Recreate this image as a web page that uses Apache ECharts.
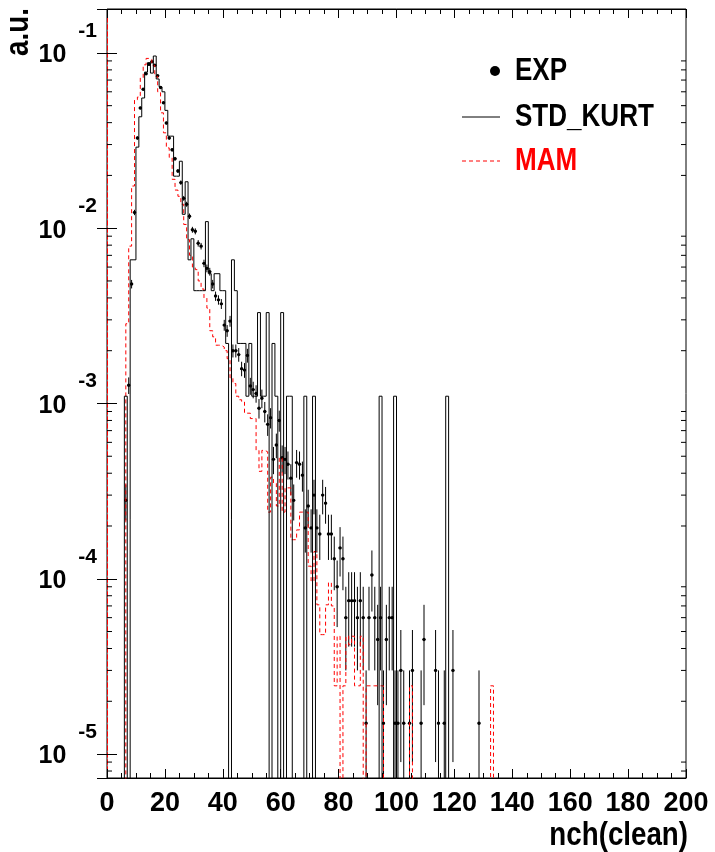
<!DOCTYPE html>
<html>
<head>
<meta charset="utf-8">
<script src="https://cdn.jsdelivr.net/npm/echarts/dist/echarts.min.js"></script>
<style>
  html, body { margin: 0; padding: 0; background: #fff; }
  #main { width: 715px; height: 852px; }
</style>
</head>
<body>
<div id="main"></div>
<script>
// bins of width 1 in nch, first bin = 5
const binStart = 5;

// STD_KURT histogram (black)
const kurtVals = [
  0, 0.0011, 0, 0.0066, 0.0066, 0.029, 0.0432, 0.0553, 0.0777, 0.088,
  0.0767, 0.096, 0.071, 0.064, 0.060, 0.047, 0.0335, 0.0335, 0.0198, 0.0198,
  0.0241, 0.012, 0.0184, 0.0066, 0.0087, 0.0044, 0.0044, 0.0044, 0.0044, 0.0109,
  0.0055, 0.0044, 0.0055, 0.0055, 0.0044, 0.0044, 0.0022, 0, 0.0066, 0.0044,
  0.0022, 0.0022, 0.0022, 0.0011, 0.0022, 0.0011, 0.0011, 0.0033, 0.0011, 0.0011,
  0.0033, 0, 0.0022, 0.0011, 0, 0.0033, 0, 0.0011, 0.0011, 0,
  0, 0, 0, 0.0011, 0, 0, 0.0011, 0, 0, 0,
  0, 0, 0, 0, 0, 0, 0, 0, 0, 0,
  0, 0, 0, 0, 0, 0, 0, 0, 0, 0.0011,
  0, 0, 0, 0, 0.0011, 0, 0, 0, 0, 0,
  0, 0, 0, 0, 0, 0, 0, 0, 0, 0,
  0, 0, 0.0011, 0, 0, 0, 0, 0, 0, 0,
  0, 0, 0, 0, 0, 0, 0, 0, 0, 0,
  0
];

// MAM histogram (red dashed), bins centred on integer nch
const mamVals = [
  0, 0, 0.00285, 0.0079, 0.0174, 0.054, 0.056, 0.072, 0.0855, 0.093,
  0.092, 0.085, 0.0735, 0.060, 0.0455, 0.035, 0.0287, 0.0253, 0.019, 0.0165,
  0.0152, 0.0137, 0.0105, 0.0086, 0.0070, 0.0060, 0.0058, 0.0050, 0.0045, 0.0040,
  0.0035, 0.0026, 0.0024, 0.00215, 0.00215, 0.0021, 0.0020, 0.0018, 0.0014, 0.0013,
  0.0011, 0.00105, 0.00102, 0.00088, 0.00088, 0.00082, 0.00082, 0.00054, 0.00041, 0.00054,
  0.00053, 0.00024, 0.00038, 0.00035, 0.00026, 0.00049, 0.00024, 0.00033, 0.00033, 0.000167,
  0.000167, 0.00019, 0.00024, 0.00024, 0.00024, 0.000118, 0.000097, 0.000143, 0.000071, 0.000048,
  0.000048, 0.000071, 0.000095, 0.00007, 0.0000245, 0.000047, 0, 0.0000245, 0.000047, 0.000042,
  0.000047, 0.0000245, 0.0000245, 0.000047, 0, 0.0000245, 0.0000245, 0.0000245, 0.0000245, 0.0000245,
  0.0000245, 0, 0, 0, 0, 0, 0, 0, 0, 0,
  0.0000245, 0, 0, 0, 0, 0, 0, 0, 0, 0,
  0, 0, 0, 0, 0, 0, 0, 0, 0, 0,
  0, 0, 0, 0, 0, 0, 0, 0, 0.0000245, 0,
  0
];

// EXP points and their errors
const expVals = [
  0, 0.00028, 0.00127, 0.0048, 0.0123, 0.0327, 0.0485, 0.062, 0.076, 0.086,
  0.089, 0.085, 0.074, 0.0635, 0.052, 0.0398, 0.0327, 0.028, 0.0249, 0.0212,
  0.0182, 0.0148, 0.0137, 0.0117, 0.0098, 0.0096, 0.0082, 0.0079, 0.0063, 0.0059,
  0.00565, 0.0048, 0.0041, 0.0039, 0.0037, 0.0028, 0.0026, 0.00295, 0.0020, 0.0020,
  0.0019, 0.00158, 0.00155, 0.00188, 0.00126, 0.0012, 0.00114, 0.00094, 0.00107, 0.0009,
  0.00076, 0.00083, 0.00048, 0.00058, 0.0008, 0.00049, 0.00048, 0.00045, 0.000375, 0.00028,
  0.00046, 0.00045, 0.00039, 0.000195, 0.00026, 0.000195, 0.0003, 0.000195, 0.00018, 0.0003,
  0.00027, 0.00018, 0.00018, 0.00013, 0.00009, 0.00015, 0.00013, 0.00006, 0.000075, 0.000075,
  0.000075, 0.00006, 0.000075, 0.00006, 0.000015, 0.00006, 0.000105, 0.00006, 0.000045, 0.00006,
  0.000015, 0.000045, 0.00006, 0.00006, 0.000015, 0.000015, 0.00003, 0.000015, 0, 0.000015,
  0.00003, 0, 0, 0.000015, 0.000045, 0, 0, 0, 0.00003, 0.000015,
  0, 0.000015, 0, 0, 0.00003, 0, 0, 0, 0, 0,
  0, 0, 0, 0.000015, 0, 0, 0, 0, 0, 0,
  0
];
const expErrs = [
  0, 6.5e-5, 1.38e-4, 2.68e-4, 4.3e-4, 7.0e-4, 8.5e-4, 9.6e-4, 1.07e-3, 1.14e-3,
  1.16e-3, 1.13e-3, 1.05e-3, 9.8e-4, 8.8e-4, 7.7e-4, 7.0e-4, 6.5e-4, 6.1e-4, 5.6e-4,
  5.2e-4, 4.7e-4, 4.5e-4, 4.2e-4, 3.8e-4, 3.8e-4, 3.5e-4, 3.4e-4, 3.1e-4, 3.0e-4,
  2.9e-4, 2.7e-4, 2.5e-4, 2.4e-4, 2.4e-4, 2.0e-4, 2.0e-4, 2.1e-4, 1.7e-4, 1.7e-4,
  1.7e-4, 1.5e-4, 1.5e-4, 1.7e-4, 1.4e-4, 1.3e-4, 1.3e-4, 1.2e-4, 1.3e-4, 1.2e-4,
  1.07e-4, 1.1e-4, 8.5e-5, 9.3e-5, 1.1e-4, 8.6e-5, 8.5e-5, 8.2e-5, 7.5e-5, 6.5e-5,
  8.3e-5, 8.2e-5, 7.6e-5, 5.4e-5, 6.2e-5, 5.4e-5, 6.7e-5, 5.4e-5, 5.2e-5, 6.7e-5,
  6.4e-5, 5.2e-5, 5.2e-5, 4.4e-5, 3.7e-5, 4.7e-5, 4.4e-5, 3.0e-5, 3.4e-5, 3.4e-5,
  3.4e-5, 3.0e-5, 3.4e-5, 3.0e-5, 1.5e-5, 3.0e-5, 4.0e-5, 3.0e-5, 2.6e-5, 3.0e-5,
  1.5e-5, 2.6e-5, 3.0e-5, 3.0e-5, 1.5e-5, 1.5e-5, 2.1e-5, 1.5e-5, 0, 1.5e-5,
  2.1e-5, 0, 0, 1.5e-5, 2.6e-5, 0, 0, 0, 2.1e-5, 1.5e-5,
  0, 1.5e-5, 0, 0, 2.1e-5, 0, 0, 0, 0, 0,
  0, 0, 0, 1.5e-5, 0, 0, 0, 0, 0, 0,
  0
];

// axis ranges
const xMin = 0, xMax = 200;
const yMin = 7.3e-6, yMax = 0.178;
const floorVal = 1e-7; // empty bins: drawn down below the frame and clipped

// minor ticks of the log axis (2..9 x 10^k)
const minorTicks = [];
for (let k = -6; k <= 0; k++) {
  for (let m = 2; m <= 9; m++) {
    const t = m * Math.pow(10, k);
    if (t > yMin && t < yMax) minorTicks.push([0, t]);
  }
}

// step line data
const kurtLine = kurtVals.map((v, i) => [binStart + i, v > 0 ? v : floorVal]);
kurtLine.push([binStart + kurtVals.length, floorVal]);
const mamLine = mamVals.map((v, i) => [binStart + i - 0.5, v > 0 ? v : floorVal]);
mamLine.push([binStart + mamVals.length - 0.5, floorVal]);
const expData = expVals.map((v, i) => [binStart + i, v, expErrs[i]]).filter(d => d[1] > 0);

const regular = "'Liberation Sans', Arial, sans-serif";

const chart = echarts.init(document.getElementById('main'), null, { renderer: 'canvas' });

function renderExp(params, api) {
  const lo = api.value(0), v = api.value(1), e = api.value(2);
  const a = api.coord([lo, v]);
  const b = api.coord([lo + 1, v]);
  const top = api.coord([lo + 0.5, v + e]);
  const bot = api.coord([lo + 0.5, Math.max(v - e, yMin)]);
  const st = { stroke: '#000', lineWidth: 1 };
  return {
    type: 'group',
    children: [
      { type: 'line', shape: { x1: a[0], y1: a[1], x2: b[0], y2: b[1] }, style: st },
      { type: 'line', shape: { x1: top[0], y1: top[1], x2: bot[0], y2: bot[1] }, style: st },
      { type: 'circle', shape: { cx: (a[0] + b[0]) / 2, cy: a[1], r: 1.7 }, style: { fill: '#000' } }
    ]
  };
}

function renderMinor(params, api) {
  const v = api.value(1);
  const l = api.coord([xMin, v]);
  const r = api.coord([xMax, v]);
  const st = { stroke: '#000', lineWidth: 1 };
  return {
    type: 'group',
    children: [
      { type: 'line', shape: { x1: l[0], y1: l[1], x2: l[0] + 5, y2: l[1] }, style: st },
      { type: 'line', shape: { x1: r[0] - 5, y1: r[1], x2: r[0], y2: r[1] }, style: st }
    ]
  };
}

const xAxisBase = {
  type: 'value', min: xMin, max: xMax, interval: 20,
  axisLine: { lineStyle: { color: '#000', width: 1 } },
  axisTick: { inside: true, length: 9, lineStyle: { color: '#000' } },
  minorTick: { show: true, splitNumber: 4, length: 5, lineStyle: { color: '#000' } },
  splitLine: { show: false }
};
const yAxisBase = {
  type: 'log', logBase: 10, min: yMin, max: yMax,
  axisLine: { show: true, lineStyle: { color: '#ff0000', type: [4, 3], width: 1 } },
  axisTick: { inside: true, length: 10, lineStyle: { color: '#000' } },
  splitLine: { show: false }
};

// condensed bold text, like the original canvas
function label(x, y, text, size, color, align, rot) {
  return {
    type: 'text', x: x, y: y, rotation: rot || 0, scaleX: 0.84,
    style: { text: text, font: 'bold ' + size + 'px ' + regular, fill: color, align: align, verticalAlign: 'middle' }
  };
}

const option = {
  animation: false,
  backgroundColor: '#fff',
  grid: { left: 107, right: 29, top: 9, bottom: 74, show: true, borderColor: '#000', borderWidth: 1 },
  xAxis: [
    Object.assign({}, xAxisBase, {
      position: 'bottom',
      axisLabel: {
        margin: 12, color: '#000', fontFamily: regular, fontWeight: 'bold', fontSize: 27
      }
    }),
    Object.assign({}, xAxisBase, { position: 'top', axisLabel: { show: false } })
  ],
  yAxis: [
    Object.assign({}, yAxisBase, {
      position: 'left',
      axisLabel: {
        margin: 10, showMinLabel: false, showMaxLabel: false,
        formatter: val => '{b|10}{s|' + Math.round(Math.log10(val)) + '}',
        rich: {
          b: { fontFamily: regular, fontWeight: 'bold', fontSize: 25, color: '#000', padding: [5, 0, 0, 0] },
          s: { fontFamily: regular, fontWeight: 'bold', fontSize: 21, color: '#000', padding: [0, 0, 44, 12] }
        }
      }
    }),
    Object.assign({}, yAxisBase, { position: 'right', axisLabel: { show: false } })
  ],
  series: [
    {
      name: 'MAM', type: 'line', step: 'end', data: mamLine,
      showSymbol: false, clip: true,
      lineStyle: { color: '#ff0000', width: 1, type: [4, 3] }
    },
    {
      name: 'STD_KURT', type: 'line', step: 'end', data: kurtLine,
      showSymbol: false, clip: true,
      lineStyle: { color: '#000', width: 1 }
    },
    {
      name: 'EXP', type: 'custom', data: expData, clip: true,
      encode: { x: 0, y: 1 }, renderItem: renderExp
    },
    {
      name: 'minor', type: 'custom', data: minorTicks, silent: true,
      encode: { x: 0, y: 1 }, renderItem: renderMinor
    }
  ],
  graphic: [
    label(19, 32, 'a.u.', 33, '#000', 'center', Math.PI / 2),
    label(688, 836, 'nch(clean)', 33, '#000', 'right'),
    // legend
    { type: 'circle', shape: { cx: 495, cy: 71, r: 5 }, style: { fill: '#000' } },
    label(515, 71, 'EXP', 31, '#000', 'left'),
    { type: 'line', shape: { x1: 462, y1: 117, x2: 500, y2: 117 }, style: { stroke: '#000', lineWidth: 1 } },
    label(515, 117, 'STD_KURT', 31, '#000', 'left'),
    { type: 'line', shape: { x1: 462, y1: 161, x2: 500, y2: 161 },
      style: { stroke: '#ff0000', lineWidth: 1, lineDash: [4, 3] } },
    label(515, 161, 'MAM', 31, '#ff0000', 'left')
  ]
};

chart.setOption(option);
</script>
</body>
</html>
